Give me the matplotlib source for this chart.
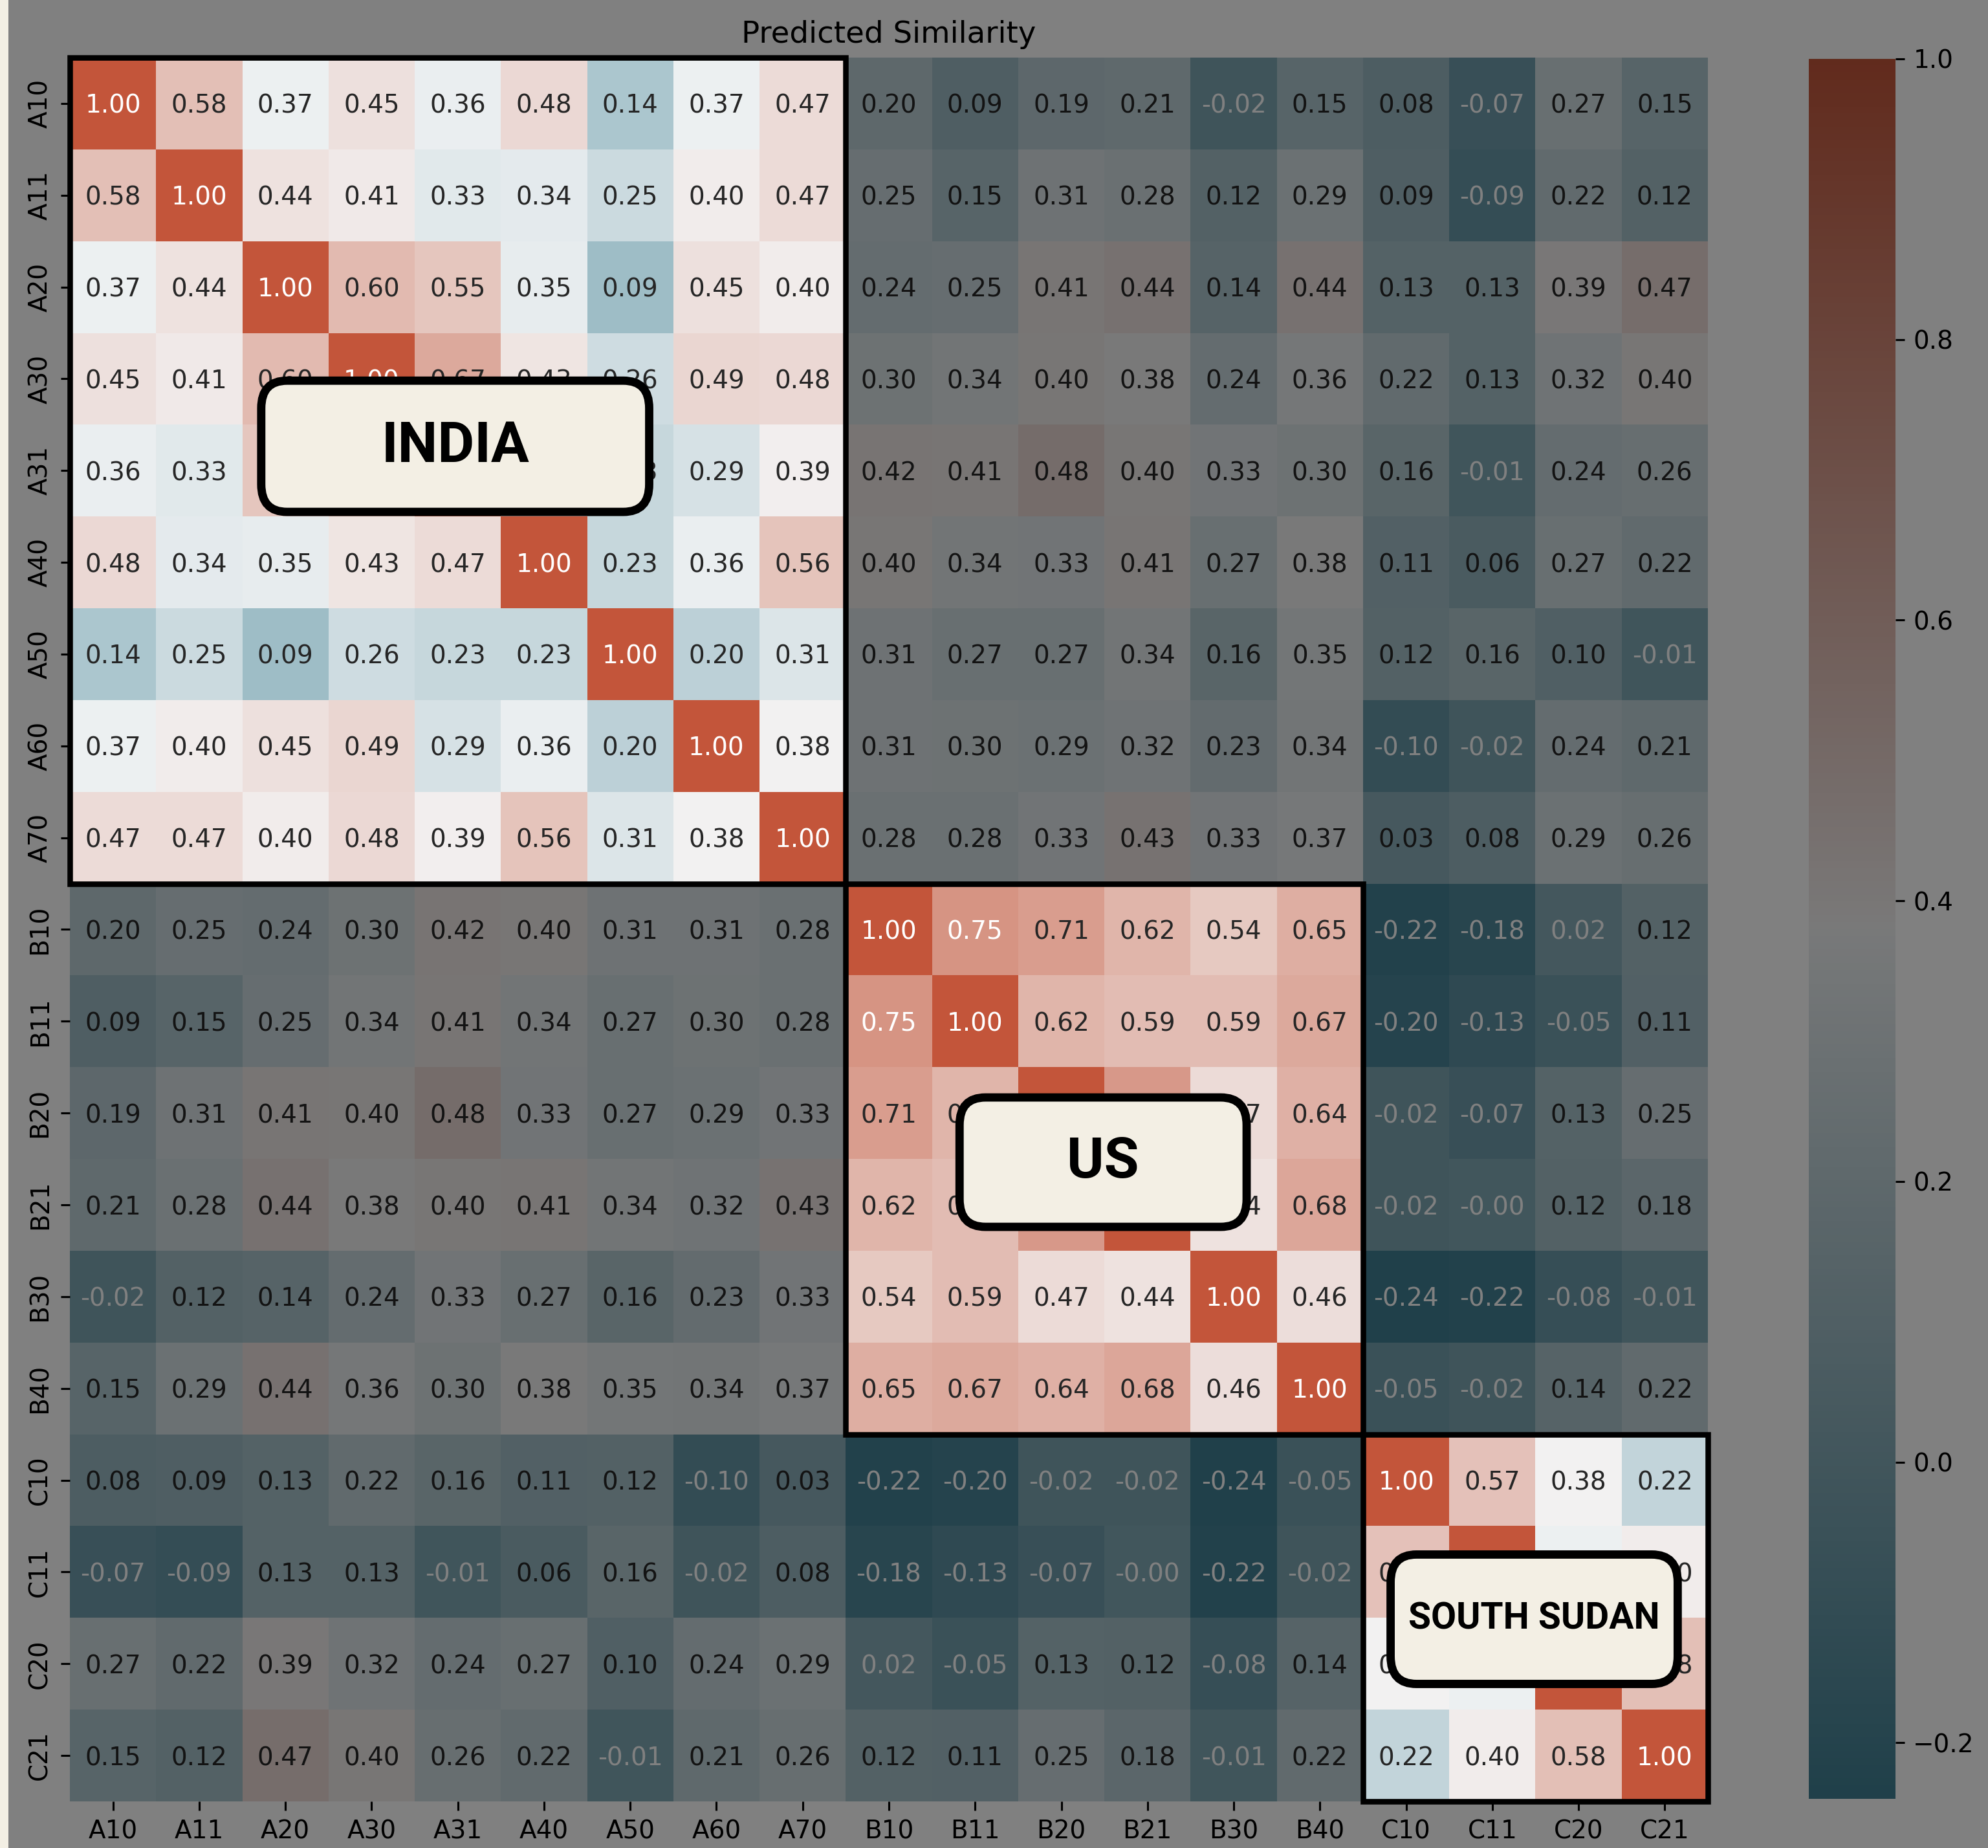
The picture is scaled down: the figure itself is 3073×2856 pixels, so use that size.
import numpy as np
import matplotlib.pyplot as plt
import seaborn as sns
from matplotlib.colors import ListedColormap, to_rgb
from matplotlib.patches import Rectangle, FancyBboxPatch

labels = ["A10", "A11", "A20", "A30", "A31", "A40", "A50", "A60", "A70",
          "B10", "B11", "B20", "B21", "B30", "B40",
          "C10", "C11", "C20", "C21"]

sim = np.array([
    [1.00, 0.58, 0.37, 0.45, 0.36, 0.48, 0.14, 0.37, 0.47, 0.20, 0.09, 0.19, 0.21, -0.02, 0.15, 0.08, -0.07, 0.27, 0.15],
    [0.58, 1.00, 0.44, 0.41, 0.33, 0.34, 0.25, 0.40, 0.47, 0.25, 0.15, 0.31, 0.28, 0.12, 0.29, 0.09, -0.09, 0.22, 0.12],
    [0.37, 0.44, 1.00, 0.60, 0.55, 0.35, 0.09, 0.45, 0.40, 0.24, 0.25, 0.41, 0.44, 0.14, 0.44, 0.13, 0.13, 0.39, 0.47],
    [0.45, 0.41, 0.60, 1.00, 0.67, 0.43, 0.26, 0.49, 0.48, 0.30, 0.34, 0.40, 0.38, 0.24, 0.36, 0.22, 0.13, 0.32, 0.40],
    [0.36, 0.33, 0.55, 0.67, 1.00, 0.47, 0.23, 0.29, 0.39, 0.42, 0.41, 0.48, 0.40, 0.33, 0.30, 0.16, -0.01, 0.24, 0.26],
    [0.48, 0.34, 0.35, 0.43, 0.47, 1.00, 0.23, 0.36, 0.56, 0.40, 0.34, 0.33, 0.41, 0.27, 0.38, 0.11, 0.06, 0.27, 0.22],
    [0.14, 0.25, 0.09, 0.26, 0.23, 0.23, 1.00, 0.20, 0.31, 0.31, 0.27, 0.27, 0.34, 0.16, 0.35, 0.12, 0.16, 0.10, -0.01],
    [0.37, 0.40, 0.45, 0.49, 0.29, 0.36, 0.20, 1.00, 0.38, 0.31, 0.30, 0.29, 0.32, 0.23, 0.34, -0.10, -0.02, 0.24, 0.21],
    [0.47, 0.47, 0.40, 0.48, 0.39, 0.56, 0.31, 0.38, 1.00, 0.28, 0.28, 0.33, 0.43, 0.33, 0.37, 0.03, 0.08, 0.29, 0.26],
    [0.20, 0.25, 0.24, 0.30, 0.42, 0.40, 0.31, 0.31, 0.28, 1.00, 0.75, 0.71, 0.62, 0.54, 0.65, -0.22, -0.18, 0.02, 0.12],
    [0.09, 0.15, 0.25, 0.34, 0.41, 0.34, 0.27, 0.30, 0.28, 0.75, 1.00, 0.62, 0.59, 0.59, 0.67, -0.20, -0.13, -0.05, 0.11],
    [0.19, 0.31, 0.41, 0.40, 0.48, 0.33, 0.27, 0.29, 0.33, 0.71, 0.62, 1.00, 0.73, 0.47, 0.64, -0.02, -0.07, 0.13, 0.25],
    [0.21, 0.28, 0.44, 0.38, 0.40, 0.41, 0.34, 0.32, 0.43, 0.62, 0.59, 0.73, 1.00, 0.44, 0.68, -0.02, -0.0, 0.12, 0.18],
    [-0.02, 0.12, 0.14, 0.24, 0.33, 0.27, 0.16, 0.23, 0.33, 0.54, 0.59, 0.47, 0.44, 1.00, 0.46, -0.24, -0.22, -0.08, -0.01],
    [0.15, 0.29, 0.44, 0.36, 0.30, 0.38, 0.35, 0.34, 0.37, 0.65, 0.67, 0.64, 0.68, 0.46, 1.00, -0.05, -0.02, 0.14, 0.22],
    [0.08, 0.09, 0.13, 0.22, 0.16, 0.11, 0.12, -0.10, 0.03, -0.22, -0.20, -0.02, -0.02, -0.24, -0.05, 1.00, 0.57, 0.38, 0.22],
    [-0.07, -0.09, 0.13, 0.13, -0.01, 0.06, 0.16, -0.02, 0.08, -0.18, -0.13, -0.07, -0.0, -0.22, -0.02, 0.57, 1.00, 0.37, 0.40],
    [0.27, 0.22, 0.39, 0.32, 0.24, 0.27, 0.10, 0.24, 0.29, 0.02, -0.05, 0.13, 0.12, -0.08, 0.14, 0.38, 0.37, 1.00, 0.58],
    [0.15, 0.12, 0.47, 0.40, 0.26, 0.22, -0.01, 0.21, 0.26, 0.12, 0.11, 0.25, 0.18, -0.01, 0.22, 0.22, 0.40, 0.58, 1.00],
])

# country blocks: name, first index, end index
groups = [("INDIA", 0, 9), ("US", 9, 15), ("SOUTH SUDAN", 15, 19)]

# label boxes (x0, y0, w, h) in cell units, font size
tags = {
    "INDIA": (2.22, 3.52, 4.50, 1.43, 22.5),
    "US": (10.32, 11.33, 3.33, 1.41, 22.5),
    "SOUTH SUDAN": (15.32, 16.31, 3.33, 1.41, 14.6),
}

n = len(labels)
cream = "#f3efe4"
shade = 0.5  # everything outside the blocks is dimmed by this factor

cmap = sns.diverging_palette(220, 20, as_cmap=True)
cols = cmap(np.linspace(0, 1, 256))
cols[:, :3] *= shade
cmap_dim = ListedColormap(cols)

inside = np.zeros(sim.shape, dtype=bool)
for _, a, b in groups:
    inside[a:b, a:b] = True

vmin, vmax = sim.min(), sim.max()

fig = plt.figure(figsize=(3073 / 280, 2856 / 280), dpi=280,
                 facecolor=(shade, shade, shade))
fig.patches.append(Rectangle((0, 0), 13 / 3073, 1, transform=fig.transFigure,
                             fc=cream, ec="none", zorder=0))
ax = fig.add_axes([0.03514, 0.02521, 0.82395, 0.94363])
cax = fig.add_axes([0.90986, 0.02661, 0.04361, 0.94153])

sns.heatmap(sim, mask=inside, cmap=cmap_dim, vmin=vmin, vmax=vmax, ax=ax,
            cbar_ax=cax, xticklabels=labels, yticklabels=labels)
sns.heatmap(sim, mask=~inside, cmap=cmap, vmin=vmin, vmax=vmax, ax=ax,
            cbar=False, xticklabels=labels, yticklabels=labels)


def lum(c):
    rgb = np.array(c[:3])
    rgb = np.where(rgb <= .03928, rgb / 12.92, ((rgb + .055) / 1.055) ** 2.4)
    return rgb.dot([.2126, .7152, .0722])


for i in range(n):
    for j in range(n):
        v = sim[i, j]
        c = cmap((v - vmin) / (vmax - vmin))
        tc = np.array(to_rgb(".15" if lum(c) > .395 else "w"))
        if not inside[i, j]:
            tc = tc * shade
        ax.text(j + .5, i + .5, f"{v:.2f}", ha="center", va="center_baseline",
                color=tc, fontsize=10)

ax.set_xticklabels(labels, rotation=0)
ax.set_yticklabels(labels, rotation=90, va="center")
ax.set_title("Predicted Similarity")

cax.set_yticks([-0.2, 0.0, 0.2, 0.4, 0.6, 0.8, 1.0])

for name, a, b in groups:
    ax.add_patch(Rectangle((a, a), b - a, b - a, fill=False, ec="black",
                           lw=2.2, zorder=4, clip_on=False))
    x0, y0, w, h, fs = tags[name]
    ax.add_patch(FancyBboxPatch((x0, y0), w, h,
                                boxstyle="round,pad=0,rounding_size=0.3",
                                fc=cream, ec="black", lw=3.3, zorder=5))
    ax.text(x0 + w / 2, y0 + h / 2, name, ha="center", va="center",
            fontsize=fs, fontweight="bold", family="Roboto", zorder=6)

fig.savefig("out.png", dpi=280, facecolor=fig.get_facecolor())
